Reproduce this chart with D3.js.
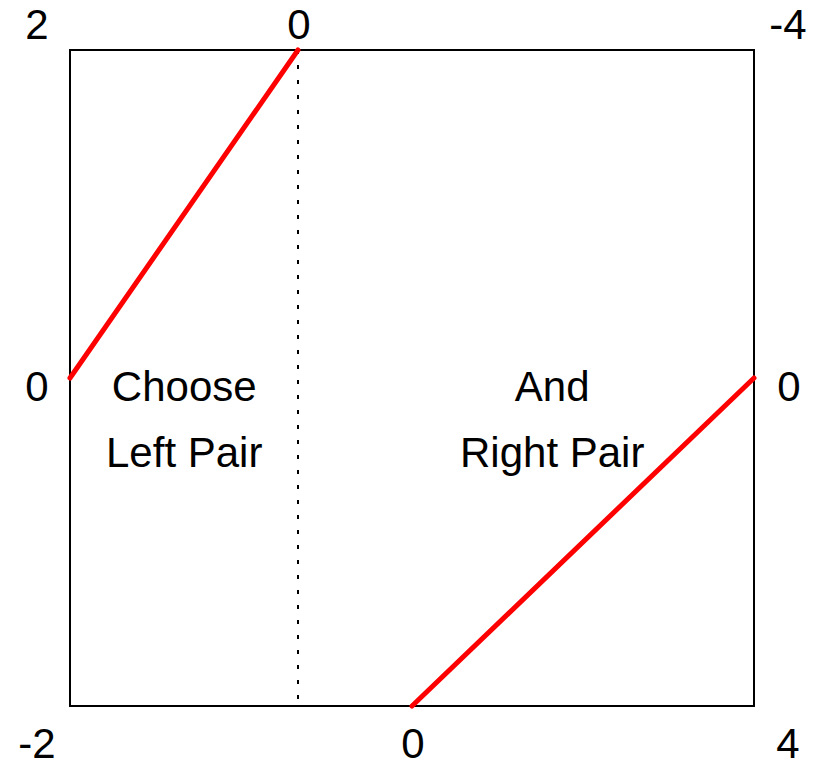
<!DOCTYPE html>
<html lang="en">
<head>
    <meta charset="UTF-8">
    <script src="https://d3js.org/d3.v7.min.js"></script>
    <title>Choose pair</title>
    <style>
        body { margin: 0; background: #fff; }
        text { font-family: "Liberation Sans", Arial, sans-serif; font-size: 42px; fill: #000; }
    </style>
</head>
<body>
<div id="Area"></div>
<script>
    // positions along the box are fractions 0..1 (left->right, top->bottom)
    const topTicks = [ {pos: 0, label: "2"}, {pos: 1/3, label: "0"}, {pos: 1, label: "-4"} ];
    const bottomTicks = [ {pos: 0, label: "-2"}, {pos: 0.5, label: "0"}, {pos: 1, label: "4"} ];
    const leftTicks = [ {pos: 0.5, label: "0"} ];
    const rightTicks = [ {pos: 0.5, label: "0"} ];

    const leftPair = [ {x: 0, y: 0.5}, {x: 1/3, y: 0} ];
    const rightPair = [ {x: 0.5, y: 1}, {x: 1, y: 0.5} ];
    const divider = [ {x: 1/3, y: 0}, {x: 1/3, y: 1} ];

    const captions = [
        {x: 0.167, lines: ["Choose", "Left Pair"]},
        {x: 0.705, lines: ["And", "Right Pair"]}
    ];

    const W = 818, H = 767;
    const margin = {top: 50, right: 64, bottom: 61, left: 70};
    const width = W - margin.left - margin.right;
    const height = H - margin.top - margin.bottom;

    const svg = d3.select("#Area")
      .append("svg")
        .attr("width", W)
        .attr("height", H)
      .append("g")
        .attr("transform", "translate(" + margin.left + "," + margin.top + ")");

    const x = d3.scaleLinear().domain([0, 1]).range([0, width]);
    const y = d3.scaleLinear().domain([0, 1]).range([0, height]);

    const line = d3.line().x(d => x(d.x)).y(d => y(d.y));

    // frame
    svg.append("rect")
        .attr("x", x(0)).attr("y", y(0))
        .attr("width", x(1) - x(0)).attr("height", y(1) - y(0))
        .attr("fill", "none").attr("stroke", "#000").attr("stroke-width", 2);

    // dotted divider
    svg.append("path")
        .attr("d", line(divider))
        .attr("fill", "none").attr("stroke", "#000")
        .attr("stroke-width", 2).attr("stroke-dasharray", "4,11");

    // red pairs
    [leftPair, rightPair].forEach(p => {
      svg.append("path")
          .attr("d", line(p))
          .attr("fill", "none").attr("stroke", "#ff0000")
          .attr("stroke-width", 5).attr("stroke-linecap", "round");
    });

    // tick labels
    const tickX = d => d.pos === 0 ? x(0) - 33 : d.pos === 1 ? x(1) + 34 : x(d.pos) + 1;

    svg.selectAll(".tTop").data(topTicks).enter().append("text")
        .attr("x", tickX)
        .attr("y", y(0) - 11)
        .attr("text-anchor", "middle")
        .text(d => d.label);

    svg.selectAll(".tBot").data(bottomTicks).enter().append("text")
        .attr("x", tickX)
        .attr("y", y(1) + 52)
        .attr("text-anchor", "middle")
        .text(d => d.label);

    svg.selectAll(".tLeft").data(leftTicks).enter().append("text")
        .attr("x", x(0) - 33)
        .attr("y", d => y(d.pos) + 23)
        .attr("text-anchor", "middle")
        .text(d => d.label);

    svg.selectAll(".tRight").data(rightTicks).enter().append("text")
        .attr("x", x(1) + 35)
        .attr("y", d => y(d.pos) + 23)
        .attr("text-anchor", "middle")
        .text(d => d.label);

    // captions
    captions.forEach(c => {
      c.lines.forEach((t, i) => {
        svg.append("text")
            .attr("x", x(c.x))
            .attr("y", y(0.5) + 23 + i * 66)
            .attr("text-anchor", "middle")
            .text(t);
      });
    });
</script>
</body>
</html>
